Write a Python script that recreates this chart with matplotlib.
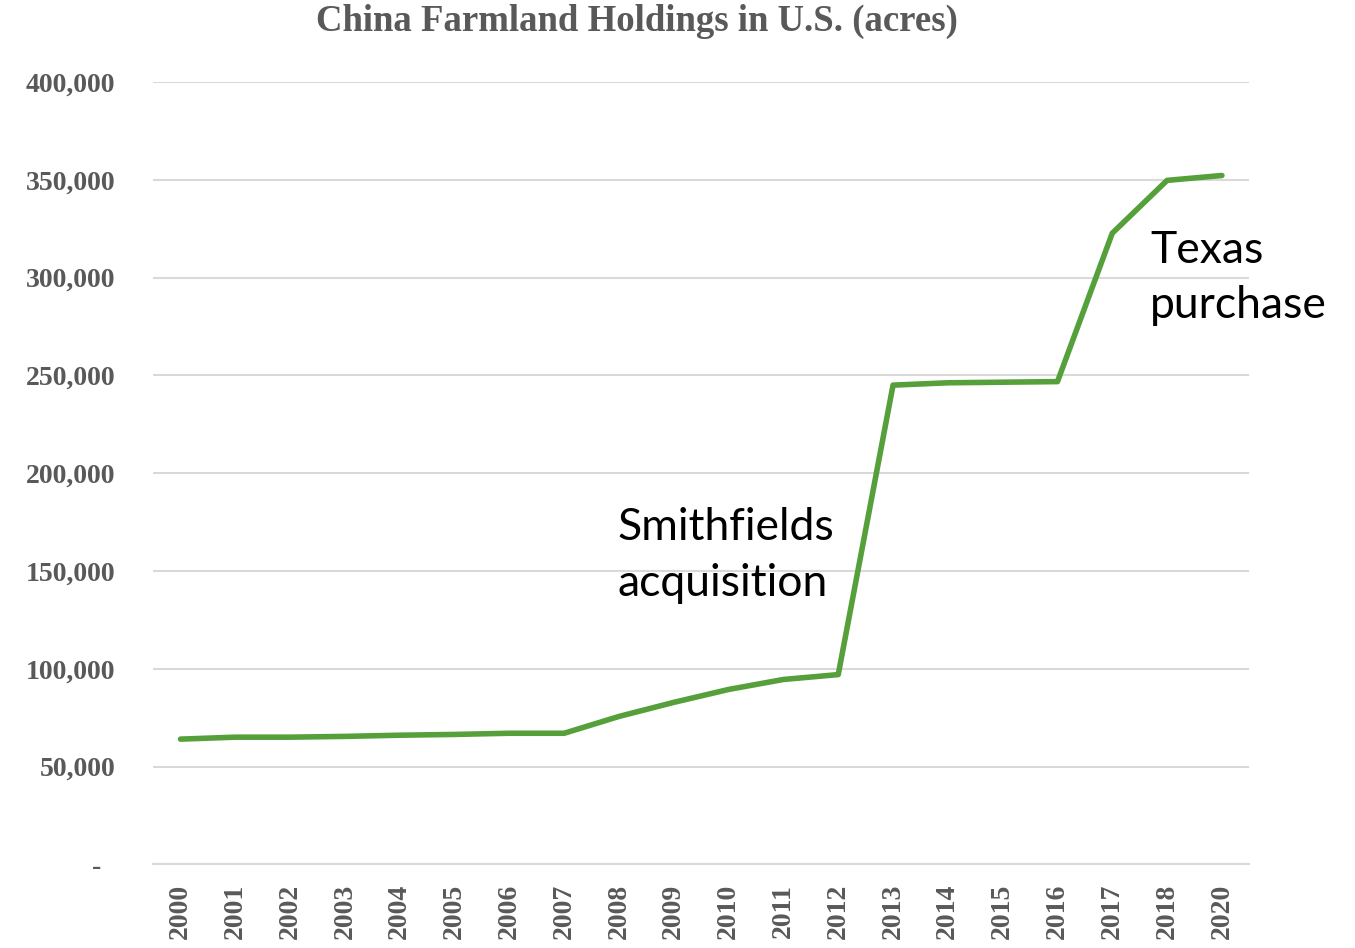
import matplotlib.pyplot as plt
from matplotlib.ticker import FuncFormatter

years = ["2000", "2001", "2002", "2003", "2004", "2005", "2006", "2007", "2008", "2009",
         "2010", "2011", "2012", "2013", "2014", "2015", "2016", "2017", "2018", "2020"]
acres = [64000, 65000, 65000, 65400, 66000, 66400, 67000, 67000, 75600, 82800,
         89400, 94500, 97000, 245000, 246200, 246500, 246800, 322700, 349700, 352200]
y_ticks = [0, 50000, 100000, 150000, 200000, 250000, 300000, 350000, 400000]

gray = "#595959"
green = "#55a03a"

fig = plt.figure(figsize=(13.55, 9.48), dpi=100)
ax = fig.add_axes([0.113, 0.0883, 0.809, 0.8252])

x = list(range(len(years)))
ax.plot(x, acres, color=green, linewidth=4, solid_capstyle="round", zorder=3)

ax.set_xlim(-0.5, len(years) - 0.5)
ax.set_ylim(0, 400000)
ax.set_yticks(y_ticks)
# zero shown as a dash, like an accounting number format
ax.yaxis.set_major_formatter(FuncFormatter(lambda v, p: "-  " if v == 0 else f"{int(v):,}"))
ax.set_xticks(x)
ax.set_xticklabels(years, rotation=90)

for lab in ax.get_yticklabels() + ax.get_xticklabels():
    lab.set_fontfamily("Liberation Serif")
    lab.set_fontweight("bold")
    lab.set_fontsize(20)
    lab.set_color(gray)

ax.tick_params(length=0)
ax.tick_params(axis="y", pad=27)
ax.tick_params(axis="x", pad=14)
ax.grid(axis="y", color="#d9d9d9", linewidth=1.5)
ax.set_axisbelow(True)
for s in ["top", "right", "left"]:
    ax.spines[s].set_visible(False)
ax.spines["bottom"].set_color("#d9d9d9")
ax.spines["bottom"].set_linewidth(1.5)

fig.text(0.470, 0.977, "China Farmland Holdings in U.S. (acres)", ha="center", va="center",
         family="Liberation Serif", fontweight="bold", fontsize=26.5, color=gray)

ax.text(7.97, 182700, "Smithfields\nacquisition", ha="left", va="top",
        family="Lato", fontsize=32, color="black", linespacing=1.45)
ax.text(17.69, 324300, "Texas\npurchase", ha="left", va="top",
        family="Lato", fontsize=32, color="black", linespacing=1.42)

fig.savefig("out.png", dpi=100)
